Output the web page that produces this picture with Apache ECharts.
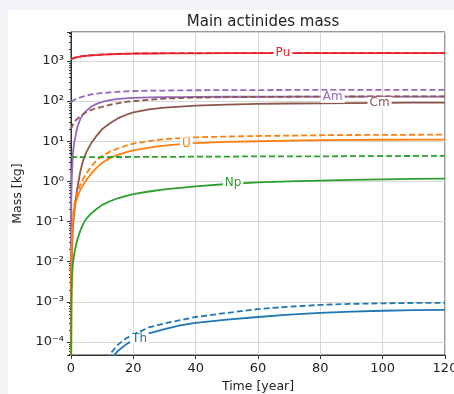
<!DOCTYPE html>
<html>
<head>
<meta charset="utf-8">
<script src="https://cdn.jsdelivr.net/npm/echarts@6/dist/echarts.min.js"></script>
<style>
  html, body { margin: 0; padding: 0; background: #f2f4f7; }
  #panel { position: absolute; left: 8px; top: 10px; width: 446px; height: 384px; background: #fff; }
  #chart { position: absolute; left: 0; top: 0; width: 454px; height: 394px; }
</style>
</head>
<body>
<div id="panel"></div>
<div id="chart"></div>
<script>
// time grid shared by all curves
const years = [0, 0.1, 0.3, 0.6, 1, 1.5, 2, 3, 4, 5, 6.5, 8, 10, 12.5, 15, 17.5, 20, 25, 30, 35, 40, 50, 60, 70, 80, 90, 100, 110, 120];

const puSolid  = [1100, 1110, 1130, 1150, 1180, 1210, 1240, 1280, 1310, 1340, 1370, 1400, 1430, 1460, 1485, 1500, 1515, 1530, 1540, 1545, 1550, 1555, 1558, 1560, 1562, 1563, 1564, 1565, 1565];
const puDashed = [1110, 1120, 1140, 1165, 1195, 1225, 1255, 1295, 1325, 1355, 1385, 1415, 1445, 1475, 1500, 1515, 1530, 1545, 1555, 1560, 1565, 1570, 1573, 1575, 1577, 1578, 1579, 1580, 1580];
const amSolid  = [1e-6, 0.4, 1.5, 5, 9, 14, 22, 36, 48, 58, 72, 84, 96, 106, 113, 117, 120, 123, 125, 126, 127, 128, 128, 129, 129, 129, 129, 129, 129];
const amDashed = [95, 97, 100, 103, 107, 111, 116, 124, 131, 138, 146, 152, 158, 165, 170, 174, 177, 181, 183, 185, 186, 187, 188, 189, 189, 190, 190, 190, 190];
const cmSolid  = [1e-6, 0.003, 0.02, 0.07, 0.15, 0.35, 0.65, 1.8, 3.5, 5.5, 9, 13, 20, 28, 37, 45, 52, 62, 69, 73, 77, 82, 85, 87, 88, 89, 90, 91, 92];
const cmDashed = [20, 21, 23, 26, 29, 33, 36, 42, 48, 54, 60, 66, 72, 81, 88, 95, 100, 108, 115, 119, 122, 125, 127, 128, 129, 130, 130, 131, 131];
const uSolid   = [1e-6, 0.008, 0.04, 0.1, 0.2, 0.3, 0.4, 0.62, 0.85, 1.1, 1.55, 2.1, 2.9, 3.8, 4.6, 5.3, 5.9, 6.9, 7.8, 8.5, 9.0, 9.6, 10.0, 10.3, 10.6, 10.8, 10.9, 11.0, 11.0];
const uDashed  = [1e-6, 0.01, 0.05, 0.12, 0.25, 0.38, 0.52, 0.85, 1.2, 1.6, 2.35, 3.2, 4.3, 5.5, 6.6, 7.7, 8.7, 10.1, 11.3, 12.0, 12.5, 13.1, 13.5, 13.8, 14.1, 14.3, 14.4, 14.5, 14.6];
const npSolid  = [1e-6, 0.001, 0.004, 0.009, 0.015, 0.024, 0.035, 0.06, 0.09, 0.12, 0.16, 0.2, 0.26, 0.32, 0.38, 0.43, 0.48, 0.56, 0.63, 0.69, 0.75, 0.86, 0.94, 1.0, 1.05, 1.09, 1.12, 1.15, 1.17];
const npDashed = [4.0, 4.0, 4.0, 4.0, 4.0, 4.0, 4.0, 4.0, 4.0, 4.0, 4.0, 4.0, 4.0, 4.05, 4.05, 4.05, 4.1, 4.1, 4.1, 4.1, 4.15, 4.15, 4.2, 4.2, 4.2, 4.25, 4.25, 4.3, 4.3];
const thSolid  = [1e-8, 1e-8, 1e-8, 1e-8, 1e-8, 1e-8, 1e-8, 1e-7, 3e-7, 6e-7, 1.5e-6, 4e-6, 1.3e-5, 3.5e-5, 6e-5, 8.5e-5, 1.12e-4, 1.65e-4, 2.1e-4, 2.6e-4, 3.0e-4, 3.6e-4, 4.2e-4, 4.8e-4, 5.3e-4, 5.7e-4, 6.0e-4, 6.2e-4, 6.3e-4];
const thDashed = [1e-8, 1e-8, 1e-8, 1e-8, 1e-8, 1e-8, 1e-8, 2e-7, 5e-7, 1e-6, 2.5e-6, 7e-6, 2e-5, 5e-5, 8.5e-5, 1.2e-4, 1.55e-4, 2.3e-4, 2.9e-4, 3.5e-4, 4.2e-4, 5.3e-4, 6.6e-4, 7.6e-4, 8.4e-4, 8.9e-4, 9.2e-4, 9.4e-4, 9.5e-4];

// inline labels: [year, mass]
const inlineLabels = {
  Pu: [68, 1555],
  Am: [84, 128],
  Cm: [99, 90],
  U:  [37, 8.8],
  Np: [52, 0.92],
  Th: [22, 1.2e-4]
};

const elements = [
  { name: 'Pu', color: '#e4262d', solid: puSolid, dashed: puDashed },
  { name: 'Am', color: '#9467bd', solid: amSolid, dashed: amDashed },
  { name: 'Cm', color: '#8c564b', solid: cmSolid, dashed: cmDashed },
  { name: 'U',  color: '#ff7f0e', solid: uSolid,  dashed: uDashed },
  { name: 'Np', color: '#2ca02c', solid: npSolid, dashed: npDashed },
  { name: 'Th', color: '#1f77b4', solid: thSolid, dashed: thDashed }
];

const font = 'DejaVu Sans';
const sup = { '-': '⁻', '0': '⁰', '1': '¹', '2': '²', '3': '³', '4': '⁴', '5': '⁵', '6': '⁶', '7': '⁷', '8': '⁸', '9': '⁹' };
function powLabel(v) {
  const e = Math.log10(v);
  const r = Math.round(e);
  if (Math.abs(e - r) > 1e-6) return '';
  return '10' + String(r).split('').map(c => sup[c]).join('');
}

const pair = arr => years.map((t, i) => [t, arr[i]]);

const series = [];
elements.forEach(el => {
  series.push({
    type: 'line', name: el.name, data: pair(el.solid), showSymbol: false, symbol: 'none',
    lineStyle: { color: el.color, width: 1.8 },
    markPoint: {
      symbol: 'rect', symbolSize: 0,
      label: {
        show: true, position: 'inside', formatter: '{b}', color: el.color,
        fontFamily: font, fontSize: 12, backgroundColor: '#fff', padding: [0, 2]
      },
      data: [{ name: el.name, coord: inlineLabels[el.name] }]
    }
  });
  series.push({
    type: 'line', name: el.name + ' (dashed)', data: pair(el.dashed), showSymbol: false, symbol: 'none',
    lineStyle: { color: el.color, width: 1.8, type: [6, 3] }
  });
});

const chart = echarts.init(document.getElementById('chart'));
chart.setOption({
  animation: false,
  title: {
    text: 'Main actinides mass', left: 258, top: 10, textAlign: 'center',
    textStyle: { fontFamily: font, fontSize: 15, fontWeight: 'normal', color: '#222' }
  },
  grid: {
    left: 71, right: 9, top: 32, bottom: 39, containLabel: false, outerBoundsMode: 'none',
    show: true, borderColor: '#333', borderWidth: 1
  },
  xAxis: {
    type: 'value', min: 0, max: 120, interval: 20,
    name: 'Time [year]', nameLocation: 'middle', nameGap: 25,
    nameTextStyle: { fontFamily: font, fontSize: 12.5, color: '#222' },
    axisLine: { lineStyle: { color: '#333' } },
    axisTick: { show: true, length: 4, lineStyle: { color: '#333' } },
    axisLabel: { fontFamily: font, fontSize: 13, color: '#222', margin: 7 },
    splitLine: { lineStyle: { color: '#d6d6d6' } }
  },
  yAxis: {
    type: 'log', min: 4.75e-5, max: 5250, logBase: 10,
    name: 'Mass [kg]', nameLocation: 'middle', nameGap: 46,
    nameTextStyle: { fontFamily: font, fontSize: 12.5, color: '#222' },
    axisLine: { show: true, lineStyle: { color: '#333' } },
    axisTick: { show: true, length: 4, lineStyle: { color: '#333' } },
    minorTick: { show: true, splitNumber: 9, length: 2, lineStyle: { color: '#333' } },
    axisLabel: { fontFamily: font, fontSize: 13, color: '#222', margin: 7, formatter: powLabel },
    splitLine: { lineStyle: { color: '#d6d6d6' } }
  },
  series: series
});
</script>
</body>
</html>
